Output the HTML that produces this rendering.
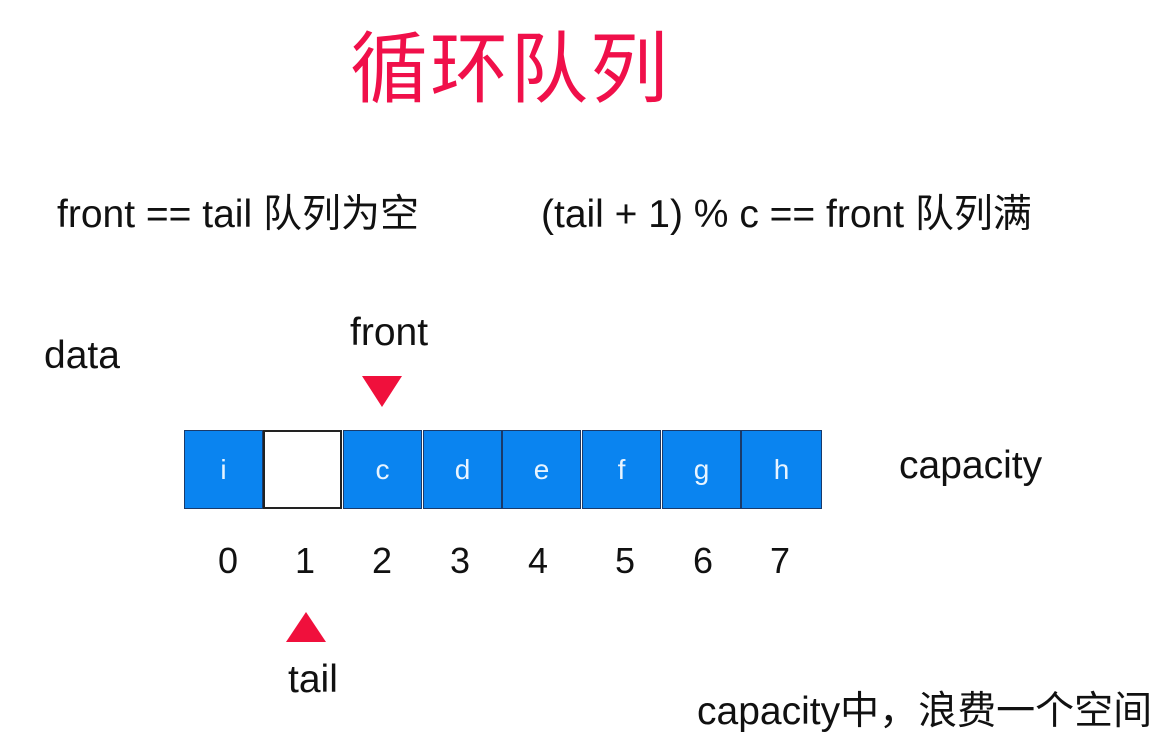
<!DOCTYPE html>
<html><head><meta charset="utf-8"><style>
body{margin:0;width:1173px;height:740px;background:#fff;position:relative;overflow:hidden;font-family:"Liberation Sans","Noto Sans CJK SC",sans-serif;color:#111}
.t{position:absolute;white-space:nowrap;line-height:1}
.cell{position:absolute;top:430px;width:79px;height:79px;background:#0a84f0;border:1px solid #1a3a6a;box-sizing:border-box;color:#e8f4ff;font-size:28px;text-align:center;line-height:77px}
.n{position:absolute;top:543px;font-size:36px;line-height:1;width:40px;text-align:center}
</style></head><body>
<div class="t" style="left:350px;top:24px;font-size:78px;color:#f0104a;font-family:'Noto Sans CJK SC',sans-serif;letter-spacing:2px">循环队列</div>
<div class="t" style="left:57px;top:195px;font-size:39px">front == tail 队列为空</div>
<div class="t" style="left:541px;top:195px;font-size:39px">(tail + 1) % c == front 队列满</div>
<div class="t" style="left:44px;top:336px;font-size:39px">data</div>
<div class="t" style="left:350px;top:313px;font-size:39px">front</div>
<div style="position:absolute;left:362px;top:376px;width:0;height:0;border-left:20px solid transparent;border-right:20px solid transparent;border-top:31px solid #f0103c"></div>
<div class="cell" style="left:184px">i</div>
<div class="cell" style="left:263px;background:#fff;border:2px solid #222"></div>
<div class="cell" style="left:343px">c</div>
<div class="cell" style="left:423px">d</div>
<div class="cell" style="left:502px">e</div>
<div class="cell" style="left:582px">f</div>
<div class="cell" style="left:662px">g</div>
<div class="cell" style="left:741px;width:81px">h</div>
<div class="t" style="left:899px;top:446px;font-size:39px">capacity</div>
<div class="n" style="left:208px">0</div>
<div class="n" style="left:285px">1</div>
<div class="n" style="left:362px">2</div>
<div class="n" style="left:440px">3</div>
<div class="n" style="left:518px">4</div>
<div class="n" style="left:605px">5</div>
<div class="n" style="left:683px">6</div>
<div class="n" style="left:760px">7</div>
<div style="position:absolute;left:286px;top:612px;width:0;height:0;border-left:20px solid transparent;border-right:20px solid transparent;border-bottom:30px solid #f0103c"></div>
<div class="t" style="left:288px;top:660px;font-size:39px">tail</div>
<div class="t" style="left:697px;top:692px;font-size:39px">capacity中，浪费一个空间</div>
</body></html>
